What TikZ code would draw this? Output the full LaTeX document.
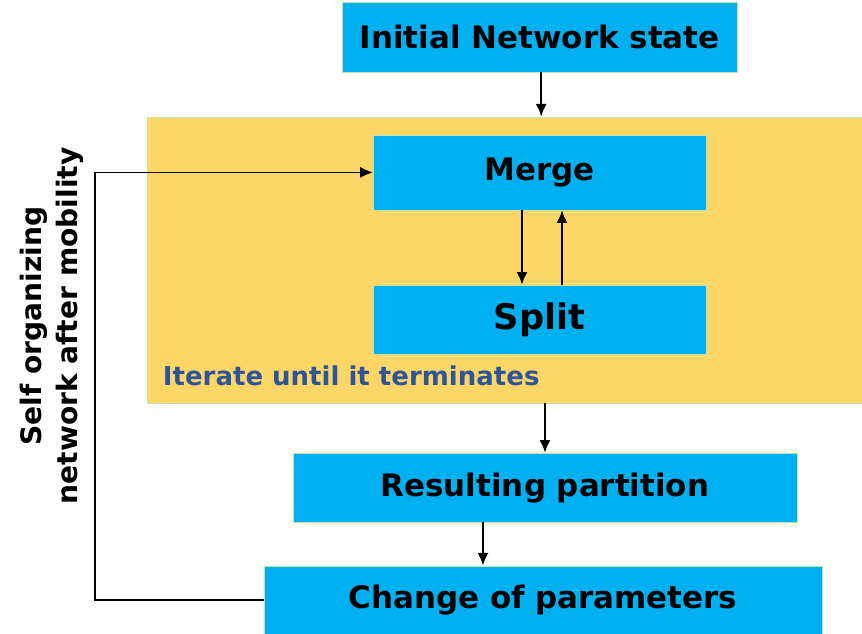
\documentclass[tikz,border=0pt]{standalone}
\usepackage{fontspec}
\setmainfont{DejaVu Sans}
\usetikzlibrary{positioning,calc,arrows.meta}

\definecolor{boxblue}{HTML}{00B0F0}
\definecolor{loopyellow}{HTML}{FCD667}
\definecolor{rimgreen}{HTML}{C4E3A8}
\definecolor{notecol}{HTML}{2F5597}

\tikzset{
  stepbox/.style={fill=boxblue,draw=rimgreen,thin,inner sep=0pt,
    font=\fontsize{22}{26}\selectfont\bfseries},
  flow/.style={-{Latex[length=3.2mm,width=2.8mm]},line width=1.7pt,black}
}

\begin{document}
\begin{tikzpicture}
      \useasboundingbox (0,0) rectangle (21.55,15.85);
      % iteration area
      \node[fill=loopyellow,draw=rimgreen,thin,minimum width=17.875cm,minimum height=7.15cm,inner sep=0pt]
        (loop) at (12.6125,9.35) {};
      % boxes
      \node[stepbox,minimum width=9.875cm,minimum height=1.75cm] (init) at (13.49,14.925) {Initial Network state};
      \node[stepbox,minimum width=8.325cm,minimum height=1.875cm] (merge) at (13.49,11.54) {Merge};
      \node[stepbox,minimum width=8.325cm,minimum height=1.725cm,font=\fontsize{25}{30}\selectfont\bfseries]
        (split) at (13.49,7.86) {Split};
      \node[stepbox,minimum width=12.6cm,minimum height=1.725cm] (result) at (13.625,3.66) {Resulting partition};
      \node[stepbox,minimum width=13.95cm,minimum height=1.7cm] (change) at (13.575,0.85) {Change of parameters};
      \node[anchor=west,text=notecol,font=\fontsize{18.5}{22}\selectfont\bfseries] (iter) at (3.95,6.45)
        {Iterate until it terminates};
      \node[rotate=90,align=center,font=\fontsize{20}{26}\selectfont\bfseries] (self) at (1.3,7.7)
        {Self organizing\\network after mobility};
      % arrows
      \draw[flow] (init.south -| 13.53,0) -- (loop.north -| 13.53,0);
      \draw[flow] ([xshift=-0.44cm]merge.south) -- ([xshift=-0.44cm]split.north);
      \draw[flow] ([xshift=0.56cm]split.north) -- ([xshift=0.56cm]merge.south);
      \draw[flow] (loop.south -| result.north) -- (result.north);
      \draw[flow] ([xshift=-1.55cm]result.south) -- ([xshift=-1.55cm]result.south |- change.north);
      % feedback
      \coordinate (bend) at (2.375,0);
      \draw[flow,line width=1pt] (change.west) -| (bend |- merge.west) -- (merge.west);
\end{tikzpicture}
\end{document}
